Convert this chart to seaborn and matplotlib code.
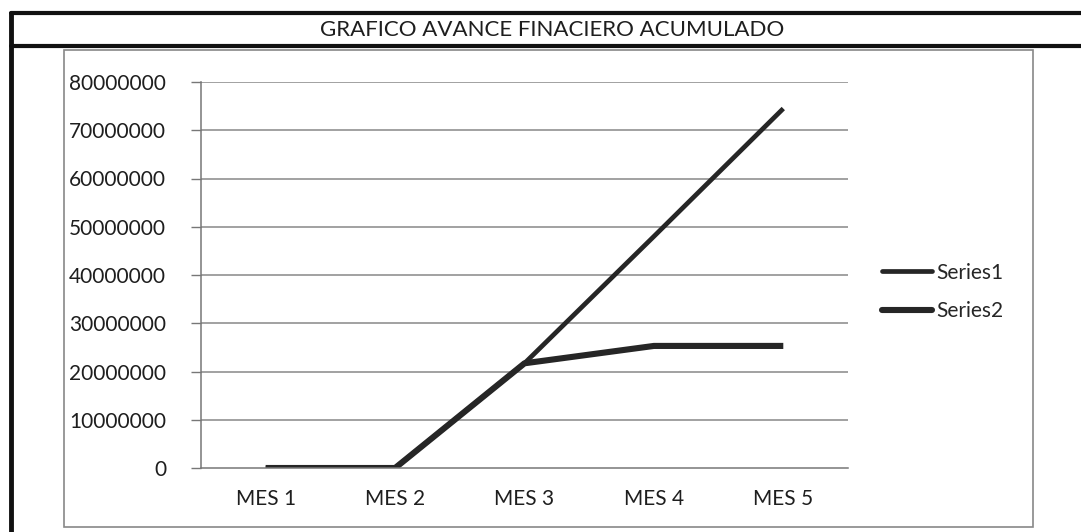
import matplotlib
matplotlib.use("Agg")
import matplotlib.pyplot as plt
import seaborn as sns
import pandas as pd
from matplotlib.lines import Line2D
from matplotlib.patches import Rectangle

categories = ["MES 1", "MES 2", "MES 3", "MES 4", "MES 5"]
series1 = [0, 0, 21700000, 48000000, 74500000]
series2 = [0, 0, 21700000, 25300000, 25300000]
series_names = ["Series1", "Series2"]
y_ticks = [0, 10000000, 20000000, 30000000, 40000000, 50000000, 60000000, 70000000, 80000000]
title = "GRAFICO AVANCE FINACIERO ACUMULADO"

df = pd.DataFrame({
    "mes": categories * 2,
    "valor": series1 + series2,
    "serie": [series_names[0]] * len(categories) + [series_names[1]] * len(categories),
})

sns.set_theme(style="white")
plt.rcParams["font.family"] = ["Lato", "DejaVu Sans"]

W, H = 1081, 532
fig = plt.figure(figsize=(W / 100, H / 100), dpi=100)
ax = fig.add_axes([201 / W, 1 - 468 / H, (848 - 201) / W, (468 - 82) / H])

sns.lineplot(data=df, x="mes", y="valor", hue="serie", palette=["#262626", "#262626"],
             ax=ax, legend=False, sort=False)
lw = [3.4, 4.4]
for line, w in zip(ax.lines, lw):
    line.set_linewidth(w)
    line.set_solid_capstyle("butt")

ax.set_xlim(-0.5, len(categories) - 0.5)
ax.set_ylim(0, 80000000)
ax.set_yticks(y_ticks)
ax.set_yticklabels([str(v) for v in y_ticks], fontsize=15, color="#1e1e1e")
ax.set_xticks(range(len(categories)))
ax.set_xticklabels(categories, fontsize=15, color="#1e1e1e")
ax.set_xticks([i - 0.5 for i in range(len(categories) + 1)], minor=True)
ax.tick_params(axis="x", which="major", length=0, pad=15)
ax.tick_params(axis="x", which="minor", length=6, width=1, color="#777777", direction="out")
ax.tick_params(axis="y", which="major", length=7, width=1, color="#777777", direction="out", pad=18, left=True)
ax.set_xlabel("")
ax.set_ylabel("")
for v in y_ticks[1:]:
    ax.axhline(v, color="#888888", lw=1.1, zorder=0)
for s in ["top", "right"]:
    ax.spines[s].set_visible(False)
for s in ["left", "bottom"]:
    ax.spines[s].set_color("#777777")
    ax.spines[s].set_linewidth(1.1)

handles = [Line2D([], [], color="#262626", lw=w) for w in lw]
fig.legend(handles, series_names, loc="center left", bbox_to_anchor=(882 / W, 1 - 292 / H),
           frameon=False, fontsize=15, handlelength=2.4, handletextpad=0.2,
           labelspacing=0.9, borderpad=0, borderaxespad=0)

# inner chart frame
fig.add_artist(Rectangle((64 / W, 1 - 527 / H), (1033 - 64) / W, (527 - 50) / H,
                         transform=fig.transFigure, fill=False, ec="#888888", lw=1.2))
# outer heavy frame
fig.add_artist(Line2D([11 / W, 1], [1 - 13 / H, 1 - 13 / H], transform=fig.transFigure, color="#111111", lw=3))
fig.add_artist(Line2D([11 / W, 1], [1 - 46 / H, 1 - 46 / H], transform=fig.transFigure, color="#111111", lw=3))
fig.add_artist(Line2D([11 / W, 11 / W], [0, 1 - 13 / H], transform=fig.transFigure, color="#111111", lw=3.5))

fig.text(552 / W, 1 - 30 / H, title, ha="center", va="center", fontsize=16, color="#1e1e1e")

fig.savefig("out.png", dpi=100)
